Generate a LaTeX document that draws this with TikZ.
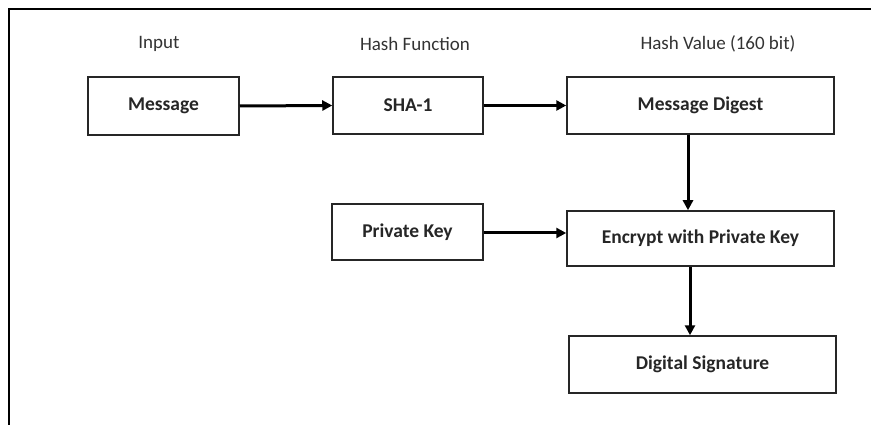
\documentclass[tikz,border=0pt]{standalone}
\usepackage{fontspec}
\setmainfont{Carlito}
\usetikzlibrary{arrows.meta}
\begin{document}
\begin{tikzpicture}[x=1pt,y=-1pt,
  block/.style={draw=black!85, line width=1.5pt, inner sep=0pt, font=\fontsize{19.5}{22}\selectfont\bfseries, text=black!85},
  heading/.style={font=\fontsize{19}{22}\selectfont, text=black!80},
  flow/.style={line width=3pt, -{Triangle[length=10pt,width=10pt]}}]
  \useasboundingbox (0,0) rectangle (871,425);
  \fill[white] (0,0) rectangle (871,425);
  % frame lines
  \draw[line width=2pt] (8,9) -- (871,9);
  \draw[line width=2.5pt] (9,9) -- (9,425);
  % column headings
  \node[heading] (hin) at (159,44) {Input};
  \node[heading] (hfn) at (415,44) {Hash Function};
  \node[heading] (hval) at (718,44) {Hash Value (160 bit)};
  % blocks
  \node[block, minimum width=151pt, minimum height=58pt] (msg) at (163.5,106) {Message};
  \node[block, minimum width=150pt, minimum height=57pt] (sha) at (408,105.5) {SHA-1};
  \node[block, minimum width=267pt, minimum height=57pt] (dig) at (700.5,105.5) {Message Digest};
  \node[block, minimum width=151pt, minimum height=56pt] (pk) at (407.5,232) {Private Key};
  \node[block, minimum width=267pt, minimum height=55pt] (enc) at (700.5,238.5) {Encrypt with Private Key};
  \node[block, minimum width=267pt, minimum height=57pt] (sig) at (702.5,364.5) {Digital Signature};
  % connectors
  \draw[flow] (msg.east) -- (sha.west);
  \draw[flow] (sha.east) -- (sha.east -| dig.west);
  \draw[flow] (pk.east |- 0,233) -- (enc.west |- 0,233);
  \draw[flow] (dig.south -| 688,0) -- (enc.north -| 688,0);
  \draw[flow] (enc.south -| 690,0) -- (sig.north -| 690,0);
\end{tikzpicture}
\end{document}
